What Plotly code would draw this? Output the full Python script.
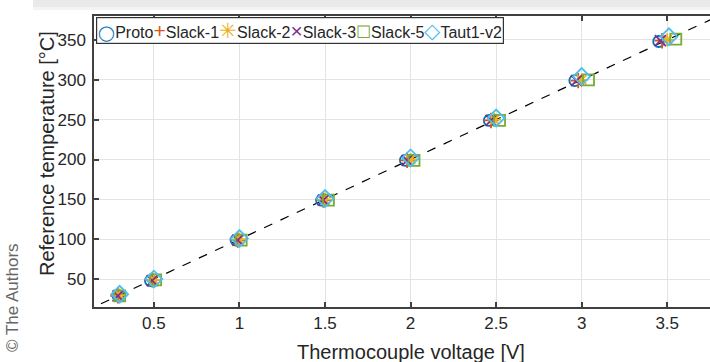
import plotly.graph_objects as go

# Calibration readings: thermocouple voltage [V] vs. reference temperature [°C]
series_names = ["Proto", "Slack-1", "Slack-2", "Slack-3", "Slack-5", "Taut1-v2"]
series_colors = ["#0072BD", "#D95319", "#EDB120", "#7E2F8E", "#77AC30", "#4DBEEE"]
series_symbols = ["circle-open", "cross-thin-open", "asterisk-open",
                  "x-thin-open", "square-open", "diamond-open"]
legend_glyphs = ["◯", "+", "✳", "×", "☐", "◇"]
legend_glyph_sizes = [15, 21, 21, 21, 17, 21]

proto_v = [0.29, 0.48, 0.98, 1.48, 1.97, 2.46, 2.96, 3.45]
proto_t = [29, 48, 99, 149, 199, 249, 299, 348]
slack1_v = [0.29, 0.49, 0.99, 1.49, 1.98, 2.47, 2.98, 3.47]
slack1_t = [29, 49, 99, 149, 199, 249, 299, 349]
slack2_v = [0.30, 0.50, 1.00, 1.50, 2.00, 2.49, 3.00, 3.50]
slack2_t = [30, 49, 100, 150, 200, 250, 300, 350]
slack3_v = [0.29, 0.49, 0.99, 1.49, 1.98, 2.47, 2.97, 3.46]
slack3_t = [29, 48, 99, 149, 199, 249, 299, 349]
slack5_v = [0.30, 0.51, 1.01, 1.52, 2.02, 2.52, 3.04, 3.55]
slack5_t = [29, 49, 99, 149, 199, 249, 300, 351]
taut_v = [0.30, 0.50, 1.00, 1.50, 2.00, 2.50, 3.00, 3.51]
taut_t = [31, 50, 101, 151, 202, 252, 304, 354]

# Ideal 100 °C/V reference line
ideal_v = [0.0, 4.0]
ideal_t = [0.0, 400.0]

x_ticks = [0.5, 1, 1.5, 2, 2.5, 3, 3.5]
x_tick_text = ["0.5", "1", "1.5", "2", "2.5", "3", "3.5"]
y_ticks = [50, 100, 150, 200, 250, 300, 350]

voltages = [proto_v, slack1_v, slack2_v, slack3_v, slack5_v, taut_v]
temps = [proto_t, slack1_t, slack2_t, slack3_t, slack5_t, taut_t]

W, H = 710, 362
ML, MR, MT, MB = 94, 0, 16, 55
PW, PH = W - ML - MR, H - MT - MB


def px(x):
    return (x - ML) / PW


def py(y):
    return (H - MB - y) / PH


fig = go.Figure()

fig.add_trace(go.Scatter(
    x=ideal_v, y=ideal_t, mode="lines",
    line=dict(color="black", width=1.2, dash="dash"),
    showlegend=False, hoverinfo="skip",
))

for name, color, sym, v, t in zip(series_names, series_colors, series_symbols, voltages, temps):
    size = 13 if sym == "diamond-open" else 11
    fig.add_trace(go.Scatter(
        x=v, y=t, mode="markers", name=name,
        marker=dict(symbol=sym, size=size, color=color,
                    line=dict(color=color, width=1.8)),
        showlegend=False,
    ))

axis_color = "#404040"
text_color = "#262626"
font_family = "Liberation Sans, Arial, sans-serif"

fig.update_xaxes(
    range=[0.15, 3.75], tickvals=x_ticks, ticktext=x_tick_text,
    showgrid=True, gridcolor="#e3e3e3", gridwidth=1,
    showline=True, linecolor=axis_color, linewidth=1.5, mirror="ticks",
    ticks="inside", ticklen=5, tickcolor=axis_color, tickwidth=1.5,
    tickfont=dict(size=17, color=text_color, family=font_family),
    zeroline=False,
)
fig.update_yaxes(
    range=[15, 380], tickvals=y_ticks,
    showgrid=True, gridcolor="#e3e3e3", gridwidth=1,
    showline=True, linecolor=axis_color, linewidth=1.5, mirror=False,
    ticks="inside", ticklen=5, tickcolor=axis_color, tickwidth=1.5,
    tickfont=dict(size=17, color=text_color, family=font_family),
    ticklabelstandoff=3,
    zeroline=False,
)

legend_html = "".join(
    f"<span style='color:{c};font-size:{s}px'>{g}</span>{n}"
    for g, c, s, n in zip(legend_glyphs, series_colors, legend_glyph_sizes, series_names)
)

annotations = [
    dict(text=legend_html, xref="paper", yref="paper",
         x=px(96), y=py(17), xanchor="left", yanchor="top", showarrow=False,
         font=dict(size=16, color=text_color, family=font_family),
         bgcolor="white", bordercolor="#333333", borderwidth=1.2, borderpad=1),
    dict(text="Thermocouple voltage [V]", xref="paper", yref="paper",
         x=px(411), y=py(352), xanchor="center", yanchor="middle", showarrow=False,
         font=dict(size=20, color=text_color, family=font_family)),
    dict(text="Reference temperature [°C]", xref="paper", yref="paper",
         x=px(47), y=py(154), xanchor="center", yanchor="middle", showarrow=False,
         textangle=-90,
         font=dict(size=20, color=text_color, family=font_family)),
    dict(text="© The Authors", xref="paper", yref="paper",
         x=px(12), y=py(298), xanchor="center", yanchor="middle", showarrow=False,
         textangle=-90,
         font=dict(size=17, color="#666666", family=font_family)),
]

shapes = [
    dict(type="rect", xref="paper", yref="paper",
         x0=px(33), x1=px(W), y0=py(7), y1=py(0),
         fillcolor="#e9e9e9", line=dict(width=0), layer="below"),
    dict(type="rect", xref="paper", yref="paper",
         x0=px(33), x1=px(W), y0=py(10), y1=py(7),
         fillcolor="#f4f4f4", line=dict(width=0), layer="below"),
]

fig.update_layout(
    width=W, height=H,
    margin=dict(l=ML, r=MR, t=MT, b=MB),
    paper_bgcolor="white", plot_bgcolor="white",
    annotations=annotations, shapes=shapes,
    showlegend=False,
    font=dict(family=font_family, color=text_color),
)

fig.write_html("out.html")
